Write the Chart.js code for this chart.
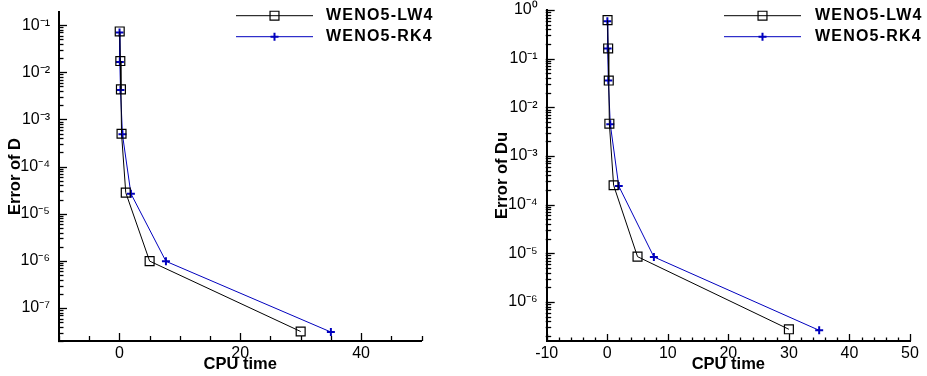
<!DOCTYPE html>
<html>
<head>
<meta charset="utf-8">
<script src="https://cdn.jsdelivr.net/npm/chart.js@4"></script>
<style>
  html, body { margin: 0; padding: 0; background: #fff; }
  #wrap { position: relative; width: 927px; height: 376px; }
  .panel { position: absolute; top: 0; }
</style>
</head>
<body>
<div id="wrap">
  <div class="panel" style="left:0"><canvas id="left" width="463" height="376"></canvas></div>
  <div class="panel" style="left:463px"><canvas id="right" width="464" height="376"></canvas></div>
</div>
<script>
// data
const seriesNames = ['WENO5-LW4', 'WENO5-RK4'];
const cpuLW4 = [0.05, 0.15, 0.25, 0.35, 1.05, 5, 30];
const cpuRK4 = [0.02, 0.07, 0.18, 0.5, 1.9, 7.7, 35];

const errD_LW4 = [0.0735, 0.0173, 0.00435, 4.97e-4, 2.8e-5, 9.9e-7, 3.18e-8];
const errD_RK4 = [0.070, 0.0166, 0.0042, 4.83e-4, 2.67e-5, 9.8e-7, 3.1e-8];

const errDu_LW4 = [0.62, 0.162, 0.0355, 0.0046, 2.5e-4, 8.5e-6, 2.73e-7];
const errDu_RK4 = [0.59, 0.162, 0.0355, 0.0045, 2.4e-4, 8.4e-6, 2.6e-7];

const superChars = {'-': '\u207B', '0': '\u2070', '1': '\u00B9', '2': '\u00B2', '3': '\u00B3',
  '4': '\u2074', '5': '\u2075', '6': '\u2076', '7': '\u2077', '8': '\u2078', '9': '\u2079'};

const FONT = "'Liberation Sans', Arial, sans-serif";
const BLUE = '#0000be';
Chart.defaults.font.family = FONT;
Chart.defaults.color = '#000';

function isDecade(v) {
  const e = Math.log10(v);
  return Math.abs(e - Math.round(e)) < 1e-6;
}
function decadeLabel(v) {
  if (!isDecade(v)) return '';
  const e = String(Math.round(Math.log10(v)));
  return '10' + e.split('').map(c => superChars[c]).join('');
}
function logValues(min, max) {
  const vals = [];
  const lo = Math.floor(Math.log10(min)), hi = Math.ceil(Math.log10(max));
  for (let e = lo; e <= hi; e++) {
    for (let m = 1; m <= 9; m++) {
      const v = m * Math.pow(10, e);
      if (v >= min * 0.9999 && v <= max * 1.0001) vals.push(v);
    }
  }
  return vals;
}

function makeData(xs1, ys1, xs2, ys2) {
  return {
    datasets: [
      {
        label: seriesNames[0],
        data: xs1.map((x, i) => ({x: x, y: ys1[i]})),
        borderColor: '#000', borderWidth: 1,
        pointStyle: 'rect', pointRadius: 6.3, pointBorderWidth: 1.2,
        pointBackgroundColor: 'rgba(0,0,0,0)', pointBorderColor: '#000'
      },
      {
        label: seriesNames[1],
        data: xs2.map((x, i) => ({x: x, y: ys2[i]})),
        borderColor: BLUE, borderWidth: 1,
        pointStyle: 'cross', pointRadius: 4, pointBorderWidth: 2,
        pointBorderColor: BLUE
      }
    ]
  };
}

// inward tick marks + legend in the top right
const deco = {
  id: 'deco',
  afterDraw(chart, args, o) {
    const ctx = chart.ctx;
    const {left, bottom} = chart.chartArea;
    const xs = chart.scales.x, ys = chart.scales.y;
    ctx.save();
    ctx.strokeStyle = '#000';
    ctx.lineWidth = 1.3;
    for (let v = xs.min; v <= xs.max + 1e-9; v += o.xStep) {
      const px = Math.round(xs.getPixelForValue(v)) + 0.5;
      const len = Math.abs(v % o.xMajor) < 1e-9 ? o.xMajorLen : o.xMinorLen;
      ctx.beginPath(); ctx.moveTo(px, bottom); ctx.lineTo(px, bottom - len); ctx.stroke();
    }
    logValues(ys.min, ys.max).forEach(v => {
      const py = Math.round(ys.getPixelForValue(v)) + 0.5;
      const len = isDecade(v) ? 8 : 4.5;
      ctx.beginPath(); ctx.moveTo(left - 1, py); ctx.lineTo(left + len, py); ctx.stroke();
    });
    // legend
    chart.data.datasets.forEach((ds, i) => {
      const y = o.rows[i];
      ctx.strokeStyle = ds.borderColor;
      ctx.lineWidth = 1;
      ctx.beginPath(); ctx.moveTo(o.x1, y); ctx.lineTo(o.x2, y); ctx.stroke();
      ctx.strokeStyle = ds.pointBorderColor;
      ctx.fillStyle = 'rgba(0,0,0,0)';
      ctx.lineWidth = ds.pointBorderWidth;
      Chart.helpers.drawPoint(ctx, {pointStyle: ds.pointStyle, radius: ds.pointRadius, rotation: 0,
        borderWidth: ds.pointBorderWidth}, (o.x1 + o.x2) / 2, y);
      ctx.fillStyle = '#000';
      ctx.font = 'bold 16px ' + FONT;
      ctx.letterSpacing = '1.2px';
      ctx.textBaseline = 'middle';
      ctx.textAlign = 'left';
      ctx.fillText(ds.label, o.textX, y);
    });
    ctx.restore();
  }
};

function makeOptions(p) {
  return {
    responsive: false,
    animation: false,
    layout: {padding: p.padding},
    plugins: {
      legend: {display: false},
      tooltip: {enabled: false},
      deco: p.deco
    },
    scales: {
      x: {
        type: 'linear', min: -10, max: 50,
        grid: {display: false, drawTicks: false},
        border: {display: true, color: '#000', width: 2},
        ticks: {stepSize: p.xStep, autoSkip: false, maxRotation: 0, padding: 3,
          font: {size: 16}, callback: v => v % p.xLabelStep === 0 ? String(v) : ''},
        title: {display: true, text: 'CPU time', font: {size: 16.5, weight: 'bold'},
          padding: {top: 0, bottom: 2}},
        afterFit: s => { s.height = 35; s.paddingLeft = 0; s.paddingRight = 0; }
      },
      y: {
        type: 'logarithmic', min: p.yMin, max: p.yMax,
        grid: {display: false, drawTicks: false},
        border: {display: true, color: '#000', width: 2},
        ticks: {autoSkip: false, padding: 9, font: {size: 16}, callback: v => decadeLabel(v)},
        afterBuildTicks: s => { s.ticks = logValues(s.min, s.max).map(v => ({value: v})); },
        title: {display: true, text: p.yTitle, font: {size: 16.5, weight: 'bold'},
          padding: {top: 6, bottom: 0}},
        afterFit: s => { s.width = p.yWidth; s.paddingTop = 0; s.paddingBottom = 0; }
      }
    }
  };
}

new Chart(document.getElementById('left'), {
  type: 'line',
  data: makeData(cpuLW4, errD_LW4, cpuRK4, errD_RK4),
  options: makeOptions({
    padding: {left: 0, right: 41.5, top: 12, bottom: 0},
    yWidth: 59, yMin: 2e-8, yMax: 0.19, yTitle: 'Error of D',
    xStep: 5, xLabelStep: 20,
    deco: {x1: 236, x2: 313, textX: 326, rows: [15.7, 36.7], xStep: 5, xMajor: 20, xMajorLen: 8, xMinorLen: 5}
  }),
  plugins: [deco]
});

new Chart(document.getElementById('right'), {
  type: 'line',
  data: makeData(cpuLW4, errDu_LW4, cpuRK4, errDu_RK4),
  options: makeOptions({
    padding: {left: 24, right: 17, top: 10, bottom: 0},
    yWidth: 59.7, yMin: 1.57e-7, yMax: 1, yTitle: 'Error of Du',
    xStep: 2, xLabelStep: 10,
    deco: {x1: 261, x2: 338, textX: 352, rows: [15.7, 36.7], xStep: 2, xMajor: 10, xMajorLen: 7, xMinorLen: 3.5}
  }),
  plugins: [deco]
});
</script>
</body>
</html>
